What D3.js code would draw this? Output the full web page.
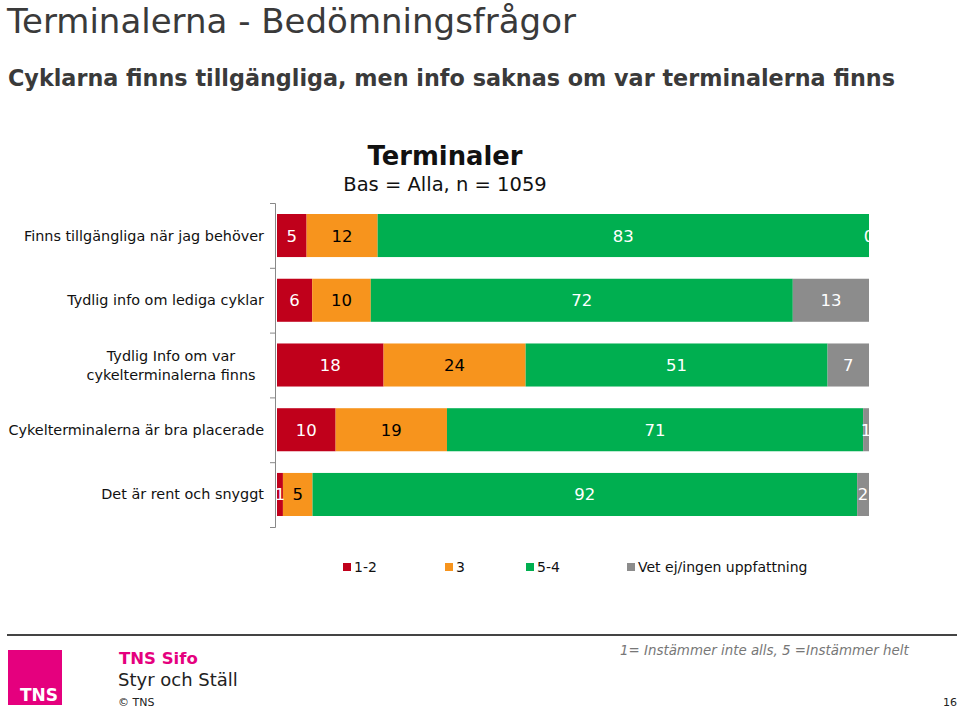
<!DOCTYPE html>
<html><head><meta charset="utf-8">
<script src="https://cdn.jsdelivr.net/npm/d3@7"></script>
<style>body{margin:0;background:#fff}svg{display:block}text{font-family:"DejaVu Sans",Verdana,sans-serif}</style>
</head><body>
<script>
const categories = ["Finns tillgängliga när jag behöver","Tydlig info om lediga cyklar","Tydlig Info om var|cykelterminalerna finns","Cykelterminalerna är bra placerade","Det är rent och snyggt"];
const seriesNames = ["1-2","3","5-4","Vet ej/ingen uppfattning"];
const s12 = [5,6,18,10,1];
const s3 = [12,10,24,19,5];
const s54 = [83,72,51,71,92];
const sVet = [0,13,7,1,2];
const colors = ["#C0001B","#F7941D","#00AF50","#8C8C8C"];
const labelColors = ["#fff","#000","#fff","#fff"];

const W=960,H=709;
const svg=d3.select("body").append("svg").attr("width",W).attr("height",H);

// titles
svg.append("text").attr("x",7).attr("y",33).attr("font-size",34).attr("fill","#3a3a3a").attr("font-family","'DejaVu Sans Condensed','DejaVu Sans',sans-serif").text("Terminalerna - Bedömningsfrågor");
svg.append("text").attr("x",8).attr("y",86).attr("font-size",22.3).attr("font-weight","bold").attr("fill","#3a3a3a").attr("font-family","'DejaVu Sans Condensed','DejaVu Sans',sans-serif").text("Cyklarna finns tillgängliga, men info saknas om var terminalerna finns");
svg.append("text").attr("x",445).attr("y",165).attr("text-anchor","middle").attr("font-size",25.8).attr("font-weight","bold").attr("fill","#111").text("Terminaler");
svg.append("text").attr("x",445).attr("y",191).attr("text-anchor","middle").attr("font-size",19.5).attr("fill","#111").text("Bas = Alla, n = 1059");

const rows = categories.map((c,i)=>({cat:c, vals:[s12[i],s3[i],s54[i],sVet[i]]}));
const x = d3.scaleLinear().domain([0,1]).range([277,869]);
const y = d3.scaleBand().domain(d3.range(categories.length)).range([203,527]).paddingInner(0.335).paddingOuter(0.17);

const stackData = rows.map((r,i)=>{const tot=d3.sum(r.vals);const o={i};r.vals.forEach((v,k)=>o["k"+k]=v/tot);return o;});
const stack = d3.stack().keys(["k0","k1","k2","k3"]);
const layers = stack(stackData);

const g=svg.append("g");
layers.forEach((layer,k)=>{
  g.selectAll(null).data(layer).enter().append("rect")
   .attr("x",d=>x(d[0])).attr("width",d=>Math.max(0,x(d[1])-x(d[0])))
   .attr("y",d=>y(d.data.i)).attr("height",y.bandwidth()).attr("fill",colors[k]);
});
layers.forEach((layer,k)=>{
  g.selectAll(null).data(layer).enter().append("text")
   .attr("x",d=>(x(d[0])+x(d[1]))/2)
   .attr("text-anchor","middle")
   .attr("y",d=>y(d.data.i)+y.bandwidth()/2+6)
   .attr("font-size",16.5).attr("fill",labelColors[k])
   .text(d=>rows[d.data.i].vals[k]);
});

// axis
const yAxis=d3.axisLeft(d3.scaleLinear().domain([0,5]).range([203,527])).tickValues(d3.range(6)).tickSize(5).tickFormat("");
const ax=svg.append("g").attr("transform","translate(275,0)").call(yAxis);
ax.selectAll("path,line").attr("stroke","#888");
// category labels
categories.forEach((c,i)=>{
  const cy=y(i)+y.bandwidth()/2;
  const parts=c.split("|");
  if(parts.length===1){
    svg.append("text").attr("x",264).attr("y",cy+5).attr("text-anchor","end").attr("font-size",14.4).attr("fill","#111").text(c);
  } else {
    parts.forEach((p,j)=>svg.append("text").attr("x",171).attr("y",cy-4+j*19).attr("text-anchor","middle").attr("font-size",14.4).attr("fill","#111").text(p));
  }
});

// legend
const legX=[343,445,526,627];
seriesNames.forEach((n,k)=>{
  svg.append("rect").attr("x",legX[k]).attr("y",563).attr("width",8).attr("height",8).attr("fill",colors[k]);
  svg.append("text").attr("x",legX[k]+11).attr("y",572).attr("font-size",14).attr("fill","#111").text(n);
});

// footer
svg.append("line").attr("x1",7).attr("x2",957).attr("y1",635).attr("y2",635).attr("stroke","#444").attr("stroke-width",2);
svg.append("rect").attr("x",8).attr("y",650).attr("width",54).attr("height",55).attr("fill","#E5007E");
svg.append("text").attr("x",20).attr("y",701).attr("font-size",17).attr("font-weight","bold").attr("fill","#fff").attr("font-family","'DejaVu Sans Condensed','DejaVu Sans',sans-serif").text("TNS");
svg.append("text").attr("x",119).attr("y",664).attr("font-size",16.5).attr("font-weight","bold").attr("fill","#E5007E").attr("font-family","'DejaVu Sans Condensed','DejaVu Sans',sans-serif").text("TNS Sifo");
svg.append("text").attr("x",118).attr("y",686).attr("font-size",18).attr("fill","#222").text("Styr och Ställ");
svg.append("text").attr("x",118).attr("y",706).attr("font-size",11).attr("fill","#222").text("© TNS");
svg.append("text").attr("x",620).attr("y",655).attr("font-size",13.4).attr("font-style","italic").attr("fill","#777").attr("font-family","'DejaVu Sans Condensed','DejaVu Sans',sans-serif").text("1= Instämmer inte alls, 5 =Instämmer helt");
svg.append("text").attr("x",957).attr("y",706).attr("text-anchor","end").attr("font-size",11).attr("fill","#222").text("16");
</script>
</body></html>
